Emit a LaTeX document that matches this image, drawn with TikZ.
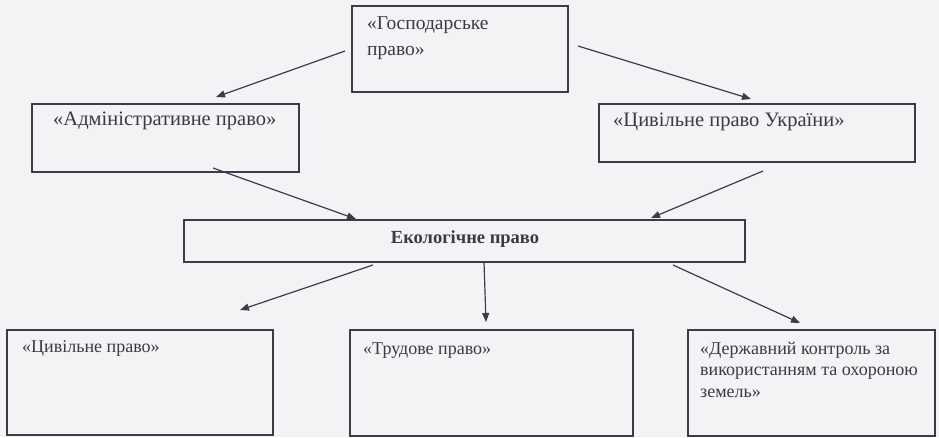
\documentclass[tikz,border=0pt]{standalone}
\usepackage{fontspec}
\setmainfont{Liberation Serif}
\usetikzlibrary{arrows.meta}
\definecolor{bgc}{HTML}{F3F3F5}
\definecolor{linec}{HTML}{3C3C48}
\definecolor{txtc}{HTML}{3A3A40}
\tikzset{
  box/.style={draw=linec, line width=1.5pt, rectangle, inner sep=0pt},
  lbl/.style={inner sep=0pt, text=txtc, font=\fontsize{18}{21}\selectfont, anchor=mid west},
  arr/.style={draw=linec, line width=1.2pt, -{Triangle[length=9pt,width=7pt]}}
}
\begin{document}
\begin{tikzpicture}[x=1pt,y=-1pt]
\fill[bgc] (0,0) rectangle (939,437);
\useasboundingbox (0,0) rectangle (939,437);
% boxes
\node[box, minimum width=216pt, minimum height=86pt] (gosp) at (460,49) {};
\node[box, minimum width=267pt, minimum height=68pt] (admin) at (165.5,138) {};
\node[box, minimum width=316pt, minimum height=58pt] (civua) at (757,133) {};
\node[box, minimum width=561pt, minimum height=42pt] (eco) at (464.5,241) {};
\node[box, minimum width=266pt, minimum height=105pt] (civ) at (140,382.5) {};
\node[box, minimum width=283pt, minimum height=106pt] (trud) at (491.5,383) {};
\node[box, minimum width=247pt, minimum height=106pt] (derzh) at (811.5,383) {};
% labels
\node[lbl, font=\fontsize{19.5}{22}\selectfont] (gospA) at (367,27) {«Господарське};
\node[lbl, font=\fontsize{19.5}{22}\selectfont] (gospB) at (367,53) {право»};
\node[lbl, font=\fontsize{20.5}{23}\selectfont] (adminT) at (53,123) {«Адміністративне право»};
\node[lbl, font=\fontsize{20.5}{23}\selectfont] (civuaT) at (613,124) {«Цивільне право України»};
\node[lbl, anchor=mid, font=\bfseries\fontsize{18.5}{21}\selectfont] (ecoT) at (465,241) {Екологічне право};
\node[lbl] (civT) at (22,350) {«Цивільне право»};
\node[lbl] (trudT) at (363,352) {«Трудове право»};
\node[lbl] (derzhA) at (700,352) {«Державний контроль за};
\node[lbl] (derzhB) at (700,373) {використанням та охороною};
\node[lbl] (derzhC) at (700,395) {земель»};
% arrow end points
\coordinate (g2a) at (345,51);
\coordinate (a1) at (216,97);
\coordinate (g2c) at (578,46);
\coordinate (c1) at (751,99);
\coordinate (a2e) at (213,168);
\coordinate (e1) at (356,219);
\coordinate (c2e) at (763,171);
\coordinate (e2) at (651,218);
\coordinate (e2l) at (373,265);
\coordinate (l1) at (240,310);
\coordinate (e2m) at (484,262);
\coordinate (m1) at (486,322);
\coordinate (e2r) at (673,265);
\coordinate (r1) at (800,323);
% arrows
\draw[arr] (g2a) -- (a1);
\draw[arr] (g2c) -- (c1);
\draw[arr] (a2e) -- (e1);
\draw[arr] (c2e) -- (e2);
\draw[arr] (e2l) -- (l1);
\draw[arr] (e2m) -- (m1);
\draw[arr] (e2r) -- (r1);
\end{tikzpicture}
\end{document}
